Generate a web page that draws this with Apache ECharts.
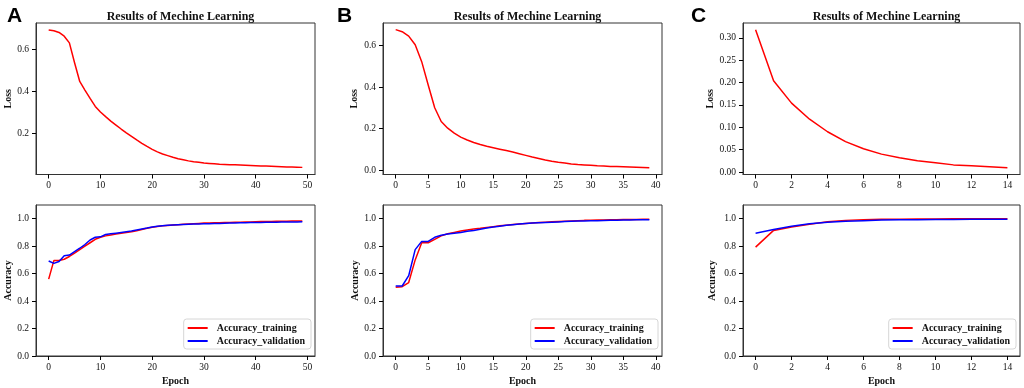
<!DOCTYPE html>
<html>
<head>
<meta charset="utf-8">
<script src="https://cdn.jsdelivr.net/npm/echarts@6/dist/echarts.min.js"></script>
<style>
  html, body { margin: 0; padding: 0; background: #fff; }
  #chart { width: 1024px; height: 388px; }
</style>
</head>
<body>
<div id="chart"></div>
<script>
// panel A: 50 epochs
const lossA = [0.692, 0.688, 0.680, 0.662, 0.630, 0.535, 0.446, 0.405, 0.365, 0.327,
  0.300, 0.278, 0.257, 0.238, 0.219, 0.201, 0.184, 0.167, 0.151, 0.136,
  0.122, 0.110, 0.100, 0.092, 0.084, 0.077, 0.072, 0.067, 0.063, 0.060,
  0.057, 0.055, 0.053, 0.051, 0.050, 0.049, 0.048, 0.047, 0.046, 0.045,
  0.044, 0.043, 0.042, 0.041, 0.040, 0.039, 0.038, 0.038, 0.037, 0.036]
const accTrainA = [0.56, 0.695, 0.695, 0.705, 0.725, 0.75, 0.775, 0.80, 0.825, 0.85,
  0.865, 0.875, 0.882, 0.888, 0.895, 0.90, 0.905, 0.913, 0.922, 0.93,
  0.938, 0.943, 0.948, 0.951, 0.954, 0.957, 0.96, 0.962, 0.964, 0.966,
  0.968, 0.969, 0.970, 0.971, 0.972, 0.973, 0.974, 0.975, 0.976, 0.977,
  0.978, 0.979, 0.98, 0.98, 0.981, 0.982, 0.982, 0.983, 0.983, 0.984]
const accValA = [0.692, 0.675, 0.688, 0.73, 0.735, 0.76, 0.785, 0.812, 0.845, 0.865,
  0.868, 0.885, 0.89, 0.895, 0.90, 0.905, 0.91, 0.918, 0.925, 0.932,
  0.94, 0.945, 0.949, 0.952, 0.954, 0.956, 0.958, 0.96, 0.961, 0.962,
  0.963, 0.964, 0.965, 0.966, 0.967, 0.968, 0.969, 0.97, 0.971, 0.972,
  0.973, 0.973, 0.974, 0.975, 0.975, 0.976, 0.976, 0.977, 0.977, 0.978]

// panel B: 40 epochs
const lossB = [0.676, 0.666, 0.645, 0.603, 0.522, 0.41, 0.30, 0.234, 0.202, 0.178,
  0.159, 0.145, 0.133, 0.123, 0.115, 0.108, 0.101, 0.094, 0.087, 0.079,
  0.071, 0.063, 0.056, 0.049, 0.043, 0.038, 0.034, 0.030, 0.027, 0.025,
  0.023, 0.021, 0.020, 0.018, 0.017, 0.016, 0.015, 0.014, 0.013, 0.012]
const accTrainB = [0.50, 0.505, 0.535, 0.70, 0.825, 0.825, 0.85, 0.875, 0.89, 0.90,
  0.91, 0.918, 0.925, 0.93, 0.936, 0.942, 0.948, 0.953, 0.958, 0.962,
  0.966, 0.969, 0.972, 0.975, 0.978, 0.98, 0.982, 0.984, 0.986, 0.988,
  0.989, 0.99, 0.991, 0.992, 0.993, 0.994, 0.995, 0.995, 0.996, 0.997]
const accValB = [0.51, 0.51, 0.585, 0.775, 0.835, 0.835, 0.865, 0.88, 0.888, 0.895,
  0.90, 0.908, 0.915, 0.923, 0.932, 0.94, 0.946, 0.952, 0.957, 0.961,
  0.965, 0.968, 0.971, 0.973, 0.975, 0.977, 0.979, 0.981, 0.983, 0.984,
  0.985, 0.986, 0.987, 0.988, 0.989, 0.99, 0.991, 0.992, 0.992, 0.993]

// panel C: 15 epochs
const lossC = [0.318, 0.204, 0.154, 0.118, 0.090, 0.068, 0.052, 0.040, 0.032, 0.025,
  0.021, 0.016, 0.014, 0.012, 0.0097]
const accTrainC = [0.793, 0.915, 0.94, 0.96, 0.978, 0.988, 0.993, 0.996, 0.997, 0.998,
  0.998, 0.999, 0.999, 0.999, 0.999]
const accValC = [0.895, 0.922, 0.945, 0.963, 0.975, 0.981, 0.986, 0.99, 0.992, 0.993,
  0.994, 0.995, 0.996, 0.996, 0.997]

// tick labels
const xTicksA = [0, 10, 20, 30, 40, 50]
const xTicksB = [0, 5, 10, 15, 20, 25, 30, 35, 40]
const xTicksC = [0, 2, 4, 6, 8, 10, 12, 14]
const lossTicksA = [0.2, 0.4, 0.6]
const lossTicksB = [0.0, 0.2, 0.4, 0.6]
const lossTicksC = [0.00, 0.05, 0.10, 0.15, 0.20, 0.25, 0.30]
const accTicks = [0.0, 0.2, 0.4, 0.6, 0.8, 1.0]

const panelLetters = ["A", "B", "C"]
const titleText = "Results of Mechine Learning"

const SERIF = "'Liberation Serif', 'Times New Roman', serif"
const AXIS_COLOR = "#333"
const TICK_COLOR = "#000"

const panels = [
  { left: 36, width: 279, loss: lossA, train: accTrainA, val: accValA,
    xTicks: xTicksA, lossTicks: lossTicksA, lossRange: [0.002, 0.725], lossDigits: 1, nameGap: 23 },
  { left: 383, width: 279, loss: lossB, train: accTrainB, val: accValB,
    xTicks: xTicksB, lossTicks: lossTicksB, lossRange: [-0.021, 0.708], lossDigits: 1, nameGap: 24 },
  { left: 743, width: 277, loss: lossC, train: accTrainC, val: accValC,
    xTicks: xTicksC, lossTicks: lossTicksC, lossRange: [-0.0055, 0.333], lossDigits: 2, nameGap: 28 },
]

function toPairs(arr) {
  return arr.map((v, i) => [i, v])
}

function xAxisFor(gridIndex, n, ticks, withName) {
  const pad = (n - 1) * 0.05
  return {
    type: "value",
    gridIndex,
    min: -pad,
    max: n - 1 + pad,
    axisLine: { show: true, onZero: false, lineStyle: { color: AXIS_COLOR, width: 1 } },
    splitLine: { show: false },
    axisTick: { show: true, customValues: ticks, length: 4, lineStyle: { color: TICK_COLOR, width: 1 } },
    axisLabel: { customValues: ticks, margin: 6, fontFamily: SERIF, fontSize: 9.5, color: "#111" },
    name: withName ? "Epoch" : "",
    nameLocation: "middle",
    nameGap: 20,
    nameTextStyle: { fontFamily: SERIF, fontWeight: "bold", fontSize: 10, color: "#111" },
  }
}

function yAxisFor(gridIndex, range, ticks, digits, name, nameGap) {
  return {
    type: "value",
    gridIndex,
    min: range[0],
    max: range[1],
    axisLine: { show: true, onZero: false, lineStyle: { color: AXIS_COLOR, width: 1 } },
    splitLine: { show: false },
    axisTick: { show: true, customValues: ticks, length: 4, lineStyle: { color: TICK_COLOR, width: 1 } },
    axisLabel: {
      customValues: ticks, margin: 7, fontFamily: SERIF, fontSize: 9.5, color: "#111",
      formatter: (v) => Number(v).toFixed(digits),
    },
    name,
    nameLocation: "middle",
    nameGap,
    nameTextStyle: { fontFamily: SERIF, fontWeight: "bold", fontSize: 10, color: "#111" },
  }
}

const grid = []
const xAxis = []
const yAxis = []
const series = []
const title = []
const legend = []

panels.forEach((p, k) => {
  const gTop = k * 2
  const gBot = k * 2 + 1
  const n = p.loss.length
  grid.push({ left: p.left, width: p.width, top: 23, height: 151.5, show: true,
    borderColor: AXIS_COLOR, borderWidth: 1, backgroundColor: "transparent" })
  grid.push({ left: p.left, width: p.width, top: 205, height: 151, show: true,
    borderColor: AXIS_COLOR, borderWidth: 1, backgroundColor: "transparent" })

  xAxis.push(xAxisFor(gTop, n, p.xTicks, false))
  xAxis.push(xAxisFor(gBot, n, p.xTicks, true))
  yAxis.push(yAxisFor(gTop, p.lossRange, p.lossTicks, p.lossDigits, "Loss", p.nameGap))
  yAxis.push(yAxisFor(gBot, [0, 1.1], accTicks, 1, "Accuracy", p.nameGap - 2))

  series.push({
    name: "Loss", type: "line", xAxisIndex: gTop, yAxisIndex: gTop,
    data: toPairs(p.loss), symbol: "none", lineStyle: { color: "#ff0000", width: 1.5 },
    itemStyle: { color: "#ff0000" },
  })
  series.push({
    name: "Accuracy_training", type: "line", xAxisIndex: gBot, yAxisIndex: gBot,
    data: toPairs(p.train), symbol: "none", lineStyle: { color: "#ff0000", width: 1.5 },
    itemStyle: { color: "#ff0000" },
  })
  series.push({
    name: "Accuracy_validation", type: "line", xAxisIndex: gBot, yAxisIndex: gBot,
    data: toPairs(p.val), symbol: "none", lineStyle: { color: "#0000ff", width: 1.5 },
    itemStyle: { color: "#0000ff" },
  })

  title.push({
    text: titleText,
    left: p.left + p.width / 2,
    top: 6,
    textAlign: "center",
    textStyle: { fontFamily: SERIF, fontWeight: "bold", fontSize: 12, color: "#111" },
  })
  title.push({
    text: panelLetters[k],
    left: [2, 332, 686][k],
    top: 1,
    textStyle: { fontFamily: "'Liberation Sans', Arial, sans-serif", fontWeight: "bold", fontSize: 21, color: "#000" },
  })

  legend.push({
    data: ["Accuracy_training", "Accuracy_validation"],
    orient: "vertical",
    right: 1024 - (p.left + p.width) + 4,
    top: 319,
    icon: "rect",
    itemWidth: 20,
    itemHeight: 2,
    itemGap: 3,
    padding: [4, 6, 3, 4],
    selectedMode: false,
    backgroundColor: "#fff",
    borderColor: "#d6d6d6",
    borderWidth: 1,
    borderRadius: 3,
    textStyle: { fontFamily: SERIF, fontWeight: "bold", fontSize: 10, color: "#111", padding: [0, 0, 0, 4] },
  })
})

const chart = echarts.init(document.getElementById("chart"), null, { renderer: "canvas" })
chart.setOption({
  animation: false,
  backgroundColor: "#fff",
  title,
  legend,
  grid,
  xAxis,
  yAxis,
  series,
})
</script>
</body>
</html>
